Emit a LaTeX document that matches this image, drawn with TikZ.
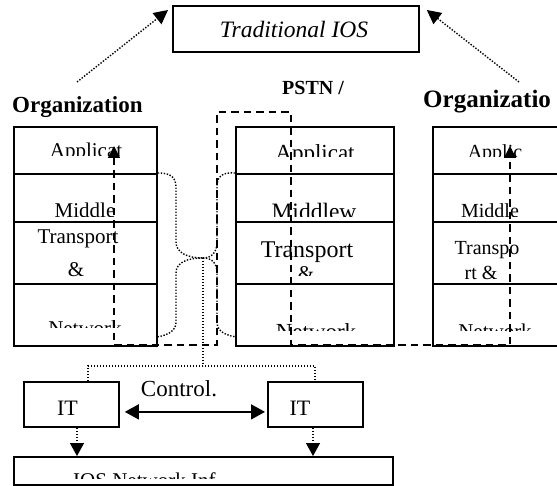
\documentclass[tikz,border=0pt]{standalone}
\usepackage{fontspec}
\setmainfont{Liberation Serif}
\usetikzlibrary{arrows.meta}

% text whose lower part is hidden below a cut line
% #1 name, #2 x (centre), #3 baseline, #4 size, #5 cut line, #6 text
\newcommand\cuttext[6]{%
  \begin{scope}
    \clip (0,0) rectangle (557,#5);
    \node[lbl, font=\fontsize{#4}{#4}\selectfont] (#1) at (#2,#3) {#6};
  \end{scope}}

\begin{document}
\begin{tikzpicture}[x=1pt,y=-1pt,
  row/.style={draw, line width=1.8pt, inner sep=0, anchor=north west, minimum width=#1},
  box/.style={draw, line width=1.8pt, inner sep=0, anchor=north west},
  lbl/.style={inner sep=0, anchor=base},
  dots/.style={line width=1.4pt, dash pattern=on 1.4pt off 1.6pt},
  dashes/.style={line width=1.6pt, dash pattern=on 7.5pt off 5pt},
  bigtip/.style={-{Triangle[length=14pt,width=14pt]}},
]
\clip (0,0) rectangle (557,486);

% ---------- top box ----------
\node[box, minimum width=246pt, minimum height=46pt] (trad) at (172,5) {};
\node[lbl, font=\fontsize{23.5}{26}\selectfont\itshape] (tradtxt) at (294,38) {Traditional IOS};

% ---------- headings ----------
\node[lbl, anchor=base west, font=\fontsize{23}{26}\selectfont\bfseries] (orgl) at (12,113) {Organization};
\node[lbl, anchor=base west, font=\fontsize{20}{23}\selectfont\bfseries] (pstn) at (282,95) {PSTN /};
\node[lbl, anchor=base west, font=\fontsize{25}{28}\selectfont\bfseries] (orgr) at (423,108) {Organizatio};

% ---------- protocol stacks ----------
\node[row=143pt, minimum height=47pt] (l1) at (13,126) {};
\node[row=143pt, minimum height=48pt] (l2) at (13,173) {};
\node[row=143pt, minimum height=62pt] (l3) at (13,221) {};
\node[row=143pt, minimum height=62pt] (l4) at (13,283) {};

\node[row=158pt, minimum height=47pt] (m1) at (235,126) {};
\node[row=158pt, minimum height=48pt] (m2) at (235,173) {};
\node[row=158pt, minimum height=62pt] (m3) at (235,221) {};
\node[row=158pt, minimum height=62pt] (m4) at (235,283) {};

\node[row=150pt, minimum height=47pt] (r1) at (432,126) {};
\node[row=150pt, minimum height=48pt] (r2) at (432,173) {};
\node[row=150pt, minimum height=62pt] (r3) at (432,221) {};
\node[row=150pt, minimum height=62pt] (r4) at (432,283) {};

% left stack labels
\cuttext{la}{86}{158}{21}{156}{Applicat}
\cuttext{lm}{85}{217.5}{21}{217}{Middle}
\node[lbl, font=\fontsize{21}{24}\selectfont] (lt) at (78,243.5) {Transport};
\node[lbl, font=\fontsize{21}{24}\selectfont] (lt2) at (76,277) {\&};
\cuttext{ln}{85}{336}{21}{328}{Network}

% middle stack labels
\cuttext{ma}{315}{161}{23}{157}{Applicat}
\cuttext{mm}{314}{219.5}{23.5}{217}{Middlew}
\node[lbl, font=\fontsize{24}{27}\selectfont] (mt) at (307,258) {Transport};
\cuttext{mt2}{306}{281}{21}{276}{\&}
\cuttext{mn}{316}{340}{23}{331}{Network}

% right stack labels
\cuttext{ra}{495}{159}{20}{157}{Applic}
\cuttext{rm}{490}{217.5}{20}{217}{Middle}
\node[lbl, font=\fontsize{20}{23}\selectfont] (rt) at (487,255) {Transpo};
\node[lbl, font=\fontsize{20}{23}\selectfont] (rt2) at (481,280) {rt \&};
\cuttext{rn}{495}{338}{21}{331}{Network}

% ---------- dotted braces between the stacks ----------
\coordinate (jn) at (203,258);
\coordinate (bus) at (203,366);
\draw[dots] (l2.north east) .. controls (171,173) and (176,177) .. (176,188)
  -- (176,242) .. controls (176,253) and (188,258) .. (jn);
\draw[dots] (jn) .. controls (188,258) and (176,262) .. (176,273)
  -- (176,322) .. controls (176,331) and (168,335) .. ([yshift=10pt]l4.south east);
\draw[dots] (m2.north west) .. controls (223,172) and (217,176) .. (217,186)
  -- (217,242) .. controls (217,252) and (212,258) .. (jn);
\draw[dots] (jn) .. controls (212,258) and (217,263) .. (217,273)
  -- (217,322) .. controls (217,331) and (225,335) .. ([yshift=10pt]m4.south west);

% ---------- dashed path across the stacks ----------
\coordinate (da) at (114,146);
\coordinate (db) at (114,345);
\coordinate (dc) at (217,345);
\coordinate (dd) at (217,112);
\coordinate (de) at (291,112);
\coordinate (df) at (291,345);
\coordinate (dg) at (510,345);
\coordinate (dh) at (510,146);
\draw[dashes, {Triangle[length=12pt,width=12pt]}-{Triangle[length=12pt,width=12pt]}]
  (da) -- (db) -- (dc) -- (dd) -- (de) -- (df) -- (dg) -- (dh);

% ---------- dotted arrows to the top box ----------
\coordinate (ul) at (77,82);
\coordinate (ur) at (519,82);
\draw[dots, bigtip] (ul) -- ([xshift=-4pt,yshift=-5pt]trad.north west);
\draw[dots, bigtip] (ur) -- ([xshift=7pt,yshift=-5pt]trad.north east);

% ---------- lower part ----------
\node[box, minimum width=95pt, minimum height=45pt] (itl) at (23,381) {};
\node[box, minimum width=95pt, minimum height=45pt] (itr) at (267,381) {};
\node[lbl, font=\fontsize{22}{25}\selectfont] (itlt) at (67.5,415) {IT};
\node[lbl, font=\fontsize{22}{25}\selectfont] (itrt) at (300,415) {IT};
\cuttext{ctl}{179}{396}{23}{396.5}{Control.}

\node[box, minimum width=379pt, minimum height=28pt] (ios) at (13,456) {};
\begin{scope}
  \clip (13,456) rectangle (392,478);
  \node[lbl, anchor=base west, font=\fontsize{21}{24}\selectfont] (iostxt) at (73,487) {IOS Network Inf};
\end{scope}

% dotted bus from the brace junction to both IT boxes
\draw[dots] (jn) -- (bus);
\draw[dots] (itl.north -| 88,0) -- (88,366) -- (315,366) -- (itr.north -| 315,0);

% control link
\draw[line width=1.6pt, {Triangle[length=14pt,width=15pt]}-{Triangle[length=14pt,width=15pt]}]
  ([xshift=5pt,yshift=-7.5pt]itl.east) -- ([xshift=-2pt,yshift=-7.5pt]itr.west);

% dotted arrows down to the infrastructure box
\draw[dots, -{Triangle[length=13pt,width=14pt]}] (itl.south -| 77,0) -- (ios.north -| 77,0);
\draw[dots, -{Triangle[length=13pt,width=14pt]}] (itr.south -| 313,0) -- (ios.north -| 313,0);
\end{tikzpicture}
\end{document}
